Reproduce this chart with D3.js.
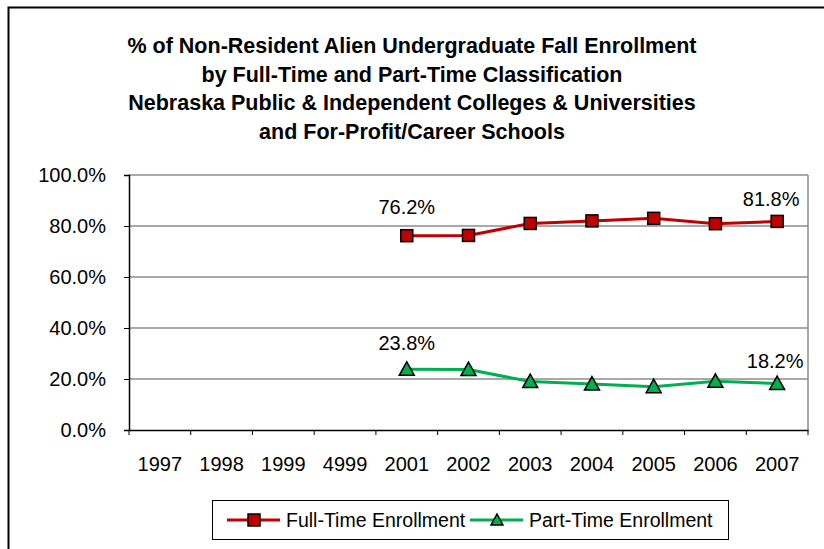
<!DOCTYPE html>
<html><head><meta charset="utf-8">
<script src="https://cdn.jsdelivr.net/npm/d3@7"></script>
<style>body{margin:0;background:#fff}svg{display:block;font-family:"Liberation Sans",Arial,sans-serif}</style>
</head><body>
<script>
const categories = ["1997","1998","1999","4999","2001","2002","2003","2004","2005","2006","2007"];
const fullTime = [null,null,null,null,76.2,76.3,81.0,82.0,83.0,80.9,81.8];
const partTime = [null,null,null,null,23.8,23.7,19.0,18.0,17.0,19.1,18.2];
const yTicks = [0,20,40,60,80,100];
const titleLines = ["% of Non-Resident Alien Undergraduate Fall Enrollment","by Full-Time and Part-Time Classification","Nebraska Public & Independent Colleges & Universities","and For-Profit/Career Schools"];
const seriesNames = ["Full-Time Enrollment","Part-Time Enrollment"];

const W=824,H=549,FF="Liberation Sans, Arial, sans-serif";
const svg=d3.select("body").append("svg").attr("width",W).attr("height",H);
svg.append("rect").attr("x",8.5).attr("y",7.5).attr("width",W+20).attr("height",H+20).attr("fill","#fff").attr("stroke","#000").attr("stroke-width",2);

const t=svg.append("text").attr("text-anchor","middle").attr("font-weight","bold").attr("font-size",21.5).attr("fill","#000");
titleLines.forEach((l,i)=>t.append("tspan").attr("x",412).attr("y",53+i*28.7).text(l));

const L=129,R=808,T=175,B=430;
const x=d3.scaleBand().domain(categories).range([L,R]);
const y=d3.scaleLinear().domain([0,100]).range([B,T]);

// gridlines
svg.append("g").selectAll("line").data(yTicks.filter(d=>d>0)).join("line")
 .attr("x1",L).attr("x2",R).attr("y1",d=>y(d)).attr("y2",d=>y(d)).attr("stroke","#8c8c8c").attr("stroke-width",1.5);
svg.append("line").attr("x1",R).attr("x2",R).attr("y1",T).attr("y2",B).attr("stroke","#8c8c8c").attr("stroke-width",1.5);

// y axis
const ya=svg.append("g").attr("transform",`translate(${L},0)`).call(d3.axisLeft(y).tickValues(yTicks).tickFormat(d=>d.toFixed(1)+"%").tickSize(5).tickPadding(18));
ya.select(".domain").attr("stroke","#000").attr("stroke-width",1.5);
ya.selectAll(".tick line").attr("stroke","#000");
ya.selectAll("text").attr("font-size",20).attr("font-family",FF).attr("fill","#000");

// x axis
const xa=svg.append("g").attr("transform",`translate(0,${B})`).call(d3.axisBottom(x).tickSize(0).tickPadding(27));
xa.select(".domain").attr("stroke","#000").attr("stroke-width",1.5);
xa.selectAll("text").attr("font-size",20).attr("font-family",FF).attr("fill","#000");
svg.append("g").selectAll("line").data(d3.range(categories.length+1)).join("line")
 .attr("x1",i=>L+i*x.step()).attr("x2",i=>L+i*x.step()).attr("y1",B).attr("y2",B+5).attr("stroke","#000");

const cx=i=>x(categories[i])+x.bandwidth()/2;
const tri=d3.line()([[0,-7.5],[7.5,6],[-7.5,6]])+"Z";
const line=d3.line().defined(d=>d[1]!=null).x(d=>cx(d[0])).y(d=>y(d[1]));
const series=[{v:fullTime,c:"#c00000",m:"sq"},{v:partTime,c:"#00b050",m:"tri"}];
series.forEach(s=>{
  const pts=s.v.map((v,i)=>[i,v]);
  svg.append("path").attr("d",line(pts)).attr("fill","none").attr("stroke",s.c).attr("stroke-width",3);
  const g=svg.append("g");
  pts.filter(d=>d[1]!=null).forEach(d=>{
    if(s.m==="sq") g.append("rect").attr("x",cx(d[0])-6).attr("y",y(d[1])-6).attr("width",12).attr("height",12).attr("fill",s.c).attr("stroke","#000").attr("stroke-width",1.5);
    else g.append("path").attr("d",tri).attr("transform",`translate(${cx(d[0])},${y(d[1])})`).attr("fill",s.c).attr("stroke","#000").attr("stroke-width",1.5);
  });
});

// data labels
const labels=[{i:4,v:fullTime[4],dy:-22,dx:0},{i:10,v:fullTime[10],dy:-15,dx:-6},{i:4,v:partTime[4],dy:-19,dx:0},{i:10,v:partTime[10],dy:-16,dx:-2}];
svg.append("g").selectAll("text").data(labels).join("text")
 .attr("x",d=>cx(d.i)+d.dx).attr("y",d=>y(d.v)+d.dy).attr("text-anchor","middle").attr("font-size",20).attr("fill","#000")
 .text(d=>d.v.toFixed(1)+"%");

// legend
svg.append("rect").attr("x",212.5).attr("y",500.5).attr("width",516).attr("height",39).attr("fill","#fff").attr("stroke","#000");
const lg=[{x:227,c:"#c00000",m:"sq",n:seriesNames[0]},{x:470,c:"#00b050",m:"tri",n:seriesNames[1]}];
lg.forEach(d=>{
  const yy=520;
  svg.append("line").attr("x1",d.x).attr("x2",d.x+53).attr("y1",yy).attr("y2",yy).attr("stroke",d.c).attr("stroke-width",3);
  if(d.m==="sq") svg.append("rect").attr("x",d.x+21).attr("y",yy-6).attr("width",12).attr("height",12).attr("fill",d.c).attr("stroke","#000").attr("stroke-width",1.5);
  else svg.append("path").attr("d",d3.line()([[0,-6],[6,5],[-6,5]])+"Z").attr("transform",`translate(${d.x+27},${yy})`).attr("fill",d.c).attr("stroke","#000").attr("stroke-width",1.5);
  svg.append("text").attr("x",d.x+59).attr("y",yy+7).attr("font-size",19.5).attr("fill","#000").text(d.n);
});
</script>
</body></html>
